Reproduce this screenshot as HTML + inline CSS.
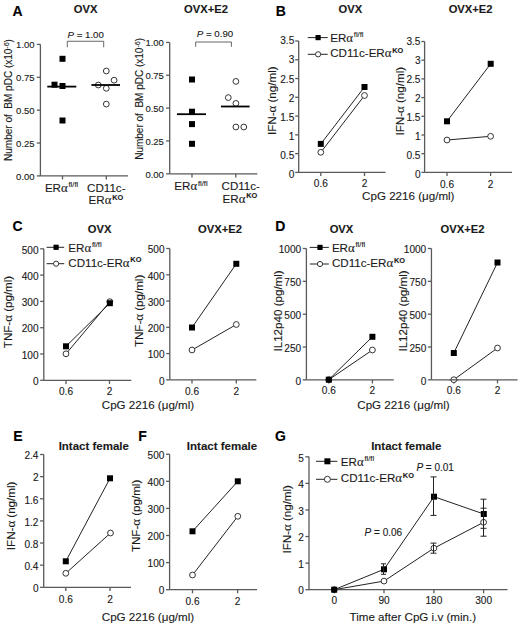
<!DOCTYPE html><html><head><meta charset="utf-8"><style>html,body{margin:0;padding:0;background:#fff;}svg{display:block;}text{font-family:"Liberation Sans",sans-serif;fill:#1a1a1a;stroke:#1a1a1a;stroke-width:0.12px;}</style></head><body>
<svg width="520" height="627" viewBox="0 0 520 627">
<rect width="520" height="627" fill="#fff"/>
<text x="12.60" y="15.60" font-size="14" font-weight="bold" style="fill:#000;stroke:#000">A</text>
<text x="85.60" y="12.80" font-size="11.2" text-anchor="middle" font-weight="bold">OVX</text>
<text x="206.00" y="12.80" font-size="11.2" text-anchor="middle" font-weight="bold">OVX+E2</text>
<line x1="40.40" y1="44.40" x2="40.40" y2="175.90" stroke="#5a5a5a" stroke-width="1.3"/>
<line x1="36.80" y1="44.40" x2="40.40" y2="44.40" stroke="#5a5a5a" stroke-width="1.3"/>
<text x="34.60" y="48.33" font-size="9.5" text-anchor="end">1.00</text>
<line x1="36.80" y1="77.28" x2="40.40" y2="77.28" stroke="#5a5a5a" stroke-width="1.3"/>
<text x="34.60" y="81.20" font-size="9.5" text-anchor="end">0.75</text>
<line x1="36.80" y1="110.15" x2="40.40" y2="110.15" stroke="#5a5a5a" stroke-width="1.3"/>
<text x="34.60" y="114.08" font-size="9.5" text-anchor="end">0.50</text>
<line x1="36.80" y1="143.03" x2="40.40" y2="143.03" stroke="#5a5a5a" stroke-width="1.3"/>
<text x="34.60" y="146.95" font-size="9.5" text-anchor="end">0.25</text>
<line x1="36.80" y1="175.90" x2="40.40" y2="175.90" stroke="#5a5a5a" stroke-width="1.3"/>
<text x="34.60" y="179.82" font-size="9.5" text-anchor="end">0.00</text>
<line x1="40.40" y1="175.90" x2="128.00" y2="175.90" stroke="#5a5a5a" stroke-width="1.3"/>
<line x1="62.50" y1="175.90" x2="62.50" y2="179.50" stroke="#5a5a5a" stroke-width="1.3"/>
<line x1="106.30" y1="175.90" x2="106.30" y2="179.50" stroke="#5a5a5a" stroke-width="1.3"/>
<rect x="59.50" y="55.80" width="6" height="6" fill="#000"/>
<rect x="51.50" y="81.70" width="6" height="6" fill="#000"/>
<rect x="59.50" y="83.00" width="6" height="6" fill="#000"/>
<rect x="59.50" y="117.50" width="6" height="6" fill="#000"/>
<line x1="47.30" y1="86.60" x2="76.30" y2="86.60" stroke="#000" stroke-width="1.8"/>
<circle cx="106.30" cy="71.00" r="2.9" fill="#fff" stroke="#2a2a2a" stroke-width="0.95"/>
<circle cx="114.10" cy="80.20" r="2.9" fill="#fff" stroke="#2a2a2a" stroke-width="0.95"/>
<circle cx="98.30" cy="85.00" r="2.9" fill="#fff" stroke="#2a2a2a" stroke-width="0.95"/>
<circle cx="106.30" cy="88.30" r="2.9" fill="#fff" stroke="#2a2a2a" stroke-width="0.95"/>
<circle cx="106.30" cy="104.10" r="2.9" fill="#fff" stroke="#2a2a2a" stroke-width="0.95"/>
<line x1="91.40" y1="85.00" x2="120.00" y2="85.00" stroke="#000" stroke-width="1.8"/>
<polyline points="67.3,47.3 67.3,41.25 103.7,41.25 103.7,47.3" fill="none" stroke="#555" stroke-width="0.9"/>
<text x="85.70" y="37.60" font-size="9.7" text-anchor="middle"><tspan font-style="italic">P</tspan> = 1.00</text>
<text transform="translate(12.40,100.00) rotate(-90)" font-size="10" text-anchor="middle">Number of&#160; BM pDC (x10<tspan font-size="7" dy="-3.2">-6</tspan><tspan dy="3.2">)</tspan></text>
<text x="44.90" y="191.70" font-size="11.6">ER<tspan style="font-family:&quot;Liberation Serif&quot;,serif;font-size:1.1em">&#945;</tspan><tspan font-size="7.6" dx="0.8" dy="-4.6">fl/fl</tspan></text>
<text x="106.30" y="191.70" font-size="11.6" text-anchor="middle">CD11c-</text>
<text x="88.60" y="204.30" font-size="11.6">ER<tspan style="font-family:&quot;Liberation Serif&quot;,serif;font-size:1.1em">&#945;</tspan><tspan font-size="7.4" font-weight="bold" dx="0.8" dy="-4.6">KO</tspan></text>
<line x1="169.70" y1="42.40" x2="169.70" y2="173.80" stroke="#5a5a5a" stroke-width="1.3"/>
<line x1="166.10" y1="42.40" x2="169.70" y2="42.40" stroke="#5a5a5a" stroke-width="1.3"/>
<text x="163.90" y="46.33" font-size="9.5" text-anchor="end">1.00</text>
<line x1="166.10" y1="75.25" x2="169.70" y2="75.25" stroke="#5a5a5a" stroke-width="1.3"/>
<text x="163.90" y="79.17" font-size="9.5" text-anchor="end">0.75</text>
<line x1="166.10" y1="108.10" x2="169.70" y2="108.10" stroke="#5a5a5a" stroke-width="1.3"/>
<text x="163.90" y="112.02" font-size="9.5" text-anchor="end">0.50</text>
<line x1="166.10" y1="140.95" x2="169.70" y2="140.95" stroke="#5a5a5a" stroke-width="1.3"/>
<text x="163.90" y="144.88" font-size="9.5" text-anchor="end">0.25</text>
<line x1="166.10" y1="173.80" x2="169.70" y2="173.80" stroke="#5a5a5a" stroke-width="1.3"/>
<text x="163.90" y="177.72" font-size="9.5" text-anchor="end">0.00</text>
<line x1="169.70" y1="173.80" x2="257.30" y2="173.80" stroke="#5a5a5a" stroke-width="1.3"/>
<line x1="192.00" y1="173.80" x2="192.00" y2="177.40" stroke="#5a5a5a" stroke-width="1.3"/>
<line x1="235.80" y1="173.80" x2="235.80" y2="177.40" stroke="#5a5a5a" stroke-width="1.3"/>
<rect x="189.00" y="76.50" width="6" height="6" fill="#000"/>
<rect x="189.00" y="108.70" width="6" height="6" fill="#000"/>
<rect x="189.00" y="121.10" width="6" height="6" fill="#000"/>
<rect x="189.00" y="140.80" width="6" height="6" fill="#000"/>
<line x1="177.00" y1="114.20" x2="206.00" y2="114.20" stroke="#000" stroke-width="1.8"/>
<circle cx="235.90" cy="81.40" r="2.9" fill="#fff" stroke="#2a2a2a" stroke-width="0.95"/>
<circle cx="228.30" cy="97.60" r="2.9" fill="#fff" stroke="#2a2a2a" stroke-width="0.95"/>
<circle cx="235.90" cy="103.40" r="2.9" fill="#fff" stroke="#2a2a2a" stroke-width="0.95"/>
<circle cx="235.90" cy="127.00" r="2.9" fill="#fff" stroke="#2a2a2a" stroke-width="0.95"/>
<circle cx="243.80" cy="127.00" r="2.9" fill="#fff" stroke="#2a2a2a" stroke-width="0.95"/>
<line x1="221.00" y1="106.50" x2="249.60" y2="106.50" stroke="#000" stroke-width="1.8"/>
<polyline points="195.7,46.8 195.7,42 231.4,42 231.4,46.8" fill="none" stroke="#555" stroke-width="0.9"/>
<text x="215.00" y="37.40" font-size="9.7" text-anchor="middle"><tspan font-style="italic">P</tspan> = 0.90</text>
<text transform="translate(143.20,98.90) rotate(-90)" font-size="10" text-anchor="middle">Number of&#160; BM pDC (x10<tspan font-size="7" dy="-3.2">-6</tspan><tspan dy="3.2">)</tspan></text>
<text x="174.30" y="190.30" font-size="11.6">ER<tspan style="font-family:&quot;Liberation Serif&quot;,serif;font-size:1.1em">&#945;</tspan><tspan font-size="7.6" dx="0.8" dy="-4.6">fl/fl</tspan></text>
<text x="240.75" y="190.30" font-size="11.6" text-anchor="middle">CD11c-</text>
<text x="222.60" y="202.70" font-size="11.6">ER<tspan style="font-family:&quot;Liberation Serif&quot;,serif;font-size:1.1em">&#945;</tspan><tspan font-size="7.4" font-weight="bold" dx="0.8" dy="-4.6">KO</tspan></text>
<text x="275.80" y="15.50" font-size="14" font-weight="bold" style="fill:#000;stroke:#000">B</text>
<text x="350.40" y="12.80" font-size="11.2" text-anchor="middle" font-weight="bold">OVX</text>
<text x="470.60" y="12.80" font-size="11.2" text-anchor="middle" font-weight="bold">OVX+E2</text>
<line x1="298.70" y1="41.00" x2="298.70" y2="172.40" stroke="#5a5a5a" stroke-width="1.3"/>
<line x1="295.20" y1="41.00" x2="298.70" y2="41.00" stroke="#5a5a5a" stroke-width="1.3"/>
<text x="294.30" y="44.41" font-size="10.1" text-anchor="end">3.5</text>
<line x1="295.20" y1="59.77" x2="298.70" y2="59.77" stroke="#5a5a5a" stroke-width="1.3"/>
<text x="294.30" y="63.46" font-size="10.1" text-anchor="end">3</text>
<line x1="295.20" y1="78.54" x2="298.70" y2="78.54" stroke="#5a5a5a" stroke-width="1.3"/>
<text x="294.30" y="82.50" font-size="10.1" text-anchor="end">2.5</text>
<line x1="295.20" y1="97.31" x2="298.70" y2="97.31" stroke="#5a5a5a" stroke-width="1.3"/>
<text x="294.30" y="101.55" font-size="10.1" text-anchor="end">2</text>
<line x1="295.20" y1="116.09" x2="298.70" y2="116.09" stroke="#5a5a5a" stroke-width="1.3"/>
<text x="294.30" y="120.60" font-size="10.1" text-anchor="end">1.5</text>
<line x1="295.20" y1="134.86" x2="298.70" y2="134.86" stroke="#5a5a5a" stroke-width="1.3"/>
<text x="294.30" y="139.64" font-size="10.1" text-anchor="end">1</text>
<line x1="295.20" y1="153.63" x2="298.70" y2="153.63" stroke="#5a5a5a" stroke-width="1.3"/>
<text x="294.30" y="158.69" font-size="10.1" text-anchor="end">0.5</text>
<line x1="295.20" y1="172.40" x2="298.70" y2="172.40" stroke="#5a5a5a" stroke-width="1.3"/>
<text x="294.30" y="177.73" font-size="10.1" text-anchor="end">0</text>
<line x1="298.70" y1="172.40" x2="385.50" y2="172.40" stroke="#5a5a5a" stroke-width="1.3"/>
<line x1="320.80" y1="172.40" x2="320.80" y2="176.00" stroke="#5a5a5a" stroke-width="1.3"/>
<text x="320.80" y="187.40" font-size="10.1" text-anchor="middle">0.6</text>
<line x1="364.50" y1="172.40" x2="364.50" y2="176.00" stroke="#5a5a5a" stroke-width="1.3"/>
<text x="364.50" y="187.40" font-size="10.1" text-anchor="middle">2</text>
<line x1="307.75" y1="37.60" x2="327.70" y2="37.60" stroke="#222" stroke-width="1"/>
<rect x="315.50" y="35.00" width="5.2" height="5.2" fill="#000"/>
<text x="330.20" y="41.80" font-size="11.6">ER<tspan style="font-family:&quot;Liberation Serif&quot;,serif;font-size:1.1em">&#945;</tspan><tspan font-size="7.6" dx="0.8" dy="-4.6">fl/fl</tspan></text>
<line x1="307.75" y1="54.30" x2="327.70" y2="54.30" stroke="#222" stroke-width="1"/>
<circle cx="318.10" cy="54.30" r="2.6" fill="#fff" stroke="#2a2a2a" stroke-width="0.95"/>
<text x="330.20" y="57.40" font-size="11.6">CD11c-ER<tspan style="font-family:&quot;Liberation Serif&quot;,serif;font-size:1.1em">&#945;</tspan><tspan font-size="7.4" font-weight="bold" dx="0.8" dy="-4.6">KO</tspan></text>
<text transform="translate(276.10,100.70) rotate(-90)" font-size="11.6" text-anchor="middle">IFN-<tspan style="font-family:&quot;Liberation Serif&quot;,serif;font-size:1.1em">&#945;</tspan> (ng/ml)</text>
<line x1="424.60" y1="41.50" x2="424.60" y2="172.40" stroke="#5a5a5a" stroke-width="1.3"/>
<line x1="421.40" y1="41.50" x2="424.60" y2="41.50" stroke="#5a5a5a" stroke-width="1.3"/>
<text x="420.50" y="44.91" font-size="10.1" text-anchor="end">3.5</text>
<line x1="421.40" y1="60.20" x2="424.60" y2="60.20" stroke="#5a5a5a" stroke-width="1.3"/>
<text x="420.50" y="63.89" font-size="10.1" text-anchor="end">3</text>
<line x1="421.40" y1="78.90" x2="424.60" y2="78.90" stroke="#5a5a5a" stroke-width="1.3"/>
<text x="420.50" y="82.86" font-size="10.1" text-anchor="end">2.5</text>
<line x1="421.40" y1="97.60" x2="424.60" y2="97.60" stroke="#5a5a5a" stroke-width="1.3"/>
<text x="420.50" y="101.84" font-size="10.1" text-anchor="end">2</text>
<line x1="421.40" y1="116.30" x2="424.60" y2="116.30" stroke="#5a5a5a" stroke-width="1.3"/>
<text x="420.50" y="120.81" font-size="10.1" text-anchor="end">1.5</text>
<line x1="421.40" y1="135.00" x2="424.60" y2="135.00" stroke="#5a5a5a" stroke-width="1.3"/>
<text x="420.50" y="139.78" font-size="10.1" text-anchor="end">1</text>
<line x1="421.40" y1="153.70" x2="424.60" y2="153.70" stroke="#5a5a5a" stroke-width="1.3"/>
<text x="420.50" y="158.76" font-size="10.1" text-anchor="end">0.5</text>
<line x1="421.40" y1="172.40" x2="424.60" y2="172.40" stroke="#5a5a5a" stroke-width="1.3"/>
<text x="420.50" y="177.73" font-size="10.1" text-anchor="end">0</text>
<line x1="424.60" y1="172.40" x2="512.00" y2="172.40" stroke="#5a5a5a" stroke-width="1.3"/>
<line x1="447.00" y1="172.40" x2="447.00" y2="176.00" stroke="#5a5a5a" stroke-width="1.3"/>
<text x="447.00" y="187.60" font-size="10.1" text-anchor="middle">0.6</text>
<line x1="490.60" y1="172.40" x2="490.60" y2="176.00" stroke="#5a5a5a" stroke-width="1.3"/>
<text x="490.60" y="187.60" font-size="10.1" text-anchor="middle">2</text>
<text transform="translate(403.80,101.20) rotate(-90)" font-size="11.6" text-anchor="middle">IFN-<tspan style="font-family:&quot;Liberation Serif&quot;,serif;font-size:1.1em">&#945;</tspan> (ng/ml)</text>
<text x="408.30" y="200.00" font-size="11.6" text-anchor="middle">CpG 2216 (&#956;g/ml)</text>
<text x="12.50" y="231.30" font-size="14" font-weight="bold" style="fill:#000;stroke:#000">C</text>
<text x="99.60" y="232.50" font-size="11.2" text-anchor="middle" font-weight="bold">OVX</text>
<text x="220.00" y="232.50" font-size="11.2" text-anchor="middle" font-weight="bold">OVX+E2</text>
<line x1="43.80" y1="248.80" x2="43.80" y2="380.30" stroke="#5a5a5a" stroke-width="1.3"/>
<line x1="40.20" y1="248.80" x2="43.80" y2="248.80" stroke="#5a5a5a" stroke-width="1.3"/>
<text x="38.60" y="253.53" font-size="10.1" text-anchor="end">500</text>
<line x1="40.20" y1="275.10" x2="43.80" y2="275.10" stroke="#5a5a5a" stroke-width="1.3"/>
<text x="38.60" y="279.84" font-size="10.1" text-anchor="end">400</text>
<line x1="40.20" y1="301.40" x2="43.80" y2="301.40" stroke="#5a5a5a" stroke-width="1.3"/>
<text x="38.60" y="306.14" font-size="10.1" text-anchor="end">300</text>
<line x1="40.20" y1="327.70" x2="43.80" y2="327.70" stroke="#5a5a5a" stroke-width="1.3"/>
<text x="38.60" y="332.44" font-size="10.1" text-anchor="end">200</text>
<line x1="40.20" y1="354.00" x2="43.80" y2="354.00" stroke="#5a5a5a" stroke-width="1.3"/>
<text x="38.60" y="358.74" font-size="10.1" text-anchor="end">100</text>
<line x1="40.20" y1="380.30" x2="43.80" y2="380.30" stroke="#5a5a5a" stroke-width="1.3"/>
<text x="38.60" y="385.04" font-size="10.1" text-anchor="end">0</text>
<line x1="43.80" y1="380.30" x2="131.30" y2="380.30" stroke="#5a5a5a" stroke-width="1.3"/>
<line x1="66.00" y1="380.30" x2="66.00" y2="383.90" stroke="#5a5a5a" stroke-width="1.3"/>
<text x="66.00" y="395.30" font-size="10.1" text-anchor="middle">0.6</text>
<line x1="109.50" y1="380.30" x2="109.50" y2="383.90" stroke="#5a5a5a" stroke-width="1.3"/>
<text x="109.50" y="395.30" font-size="10.1" text-anchor="middle">2</text>
<line x1="46.60" y1="247.30" x2="64.20" y2="247.30" stroke="#222" stroke-width="1"/>
<rect x="53.50" y="244.70" width="5.2" height="5.2" fill="#000"/>
<text x="68.30" y="251.50" font-size="11.6">ER<tspan style="font-family:&quot;Liberation Serif&quot;,serif;font-size:1.1em">&#945;</tspan><tspan font-size="7.6" dx="0.8" dy="-4.6">fl/fl</tspan></text>
<line x1="46.60" y1="263.70" x2="64.20" y2="263.70" stroke="#222" stroke-width="1"/>
<circle cx="56.10" cy="263.70" r="2.6" fill="#fff" stroke="#2a2a2a" stroke-width="0.95"/>
<text x="68.30" y="266.80" font-size="11.6">CD11c-ER<tspan style="font-family:&quot;Liberation Serif&quot;,serif;font-size:1.1em">&#945;</tspan><tspan font-size="7.4" font-weight="bold" dx="0.8" dy="-4.6">KO</tspan></text>
<text transform="translate(12.30,312.00) rotate(-90)" font-size="11.6" text-anchor="middle">TNF-<tspan style="font-family:&quot;Liberation Serif&quot;,serif;font-size:1.1em">&#945;</tspan> (pg/ml)</text>
<line x1="169.80" y1="248.50" x2="169.80" y2="379.85" stroke="#5a5a5a" stroke-width="1.3"/>
<line x1="166.20" y1="248.50" x2="169.80" y2="248.50" stroke="#5a5a5a" stroke-width="1.3"/>
<text x="164.60" y="253.23" font-size="10.1" text-anchor="end">500</text>
<line x1="166.20" y1="274.77" x2="169.80" y2="274.77" stroke="#5a5a5a" stroke-width="1.3"/>
<text x="164.60" y="279.50" font-size="10.1" text-anchor="end">400</text>
<line x1="166.20" y1="301.04" x2="169.80" y2="301.04" stroke="#5a5a5a" stroke-width="1.3"/>
<text x="164.60" y="305.78" font-size="10.1" text-anchor="end">300</text>
<line x1="166.20" y1="327.31" x2="169.80" y2="327.31" stroke="#5a5a5a" stroke-width="1.3"/>
<text x="164.60" y="332.05" font-size="10.1" text-anchor="end">200</text>
<line x1="166.20" y1="353.58" x2="169.80" y2="353.58" stroke="#5a5a5a" stroke-width="1.3"/>
<text x="164.60" y="358.32" font-size="10.1" text-anchor="end">100</text>
<line x1="166.20" y1="379.85" x2="169.80" y2="379.85" stroke="#5a5a5a" stroke-width="1.3"/>
<text x="164.60" y="384.59" font-size="10.1" text-anchor="end">0</text>
<line x1="169.80" y1="379.85" x2="256.30" y2="379.85" stroke="#5a5a5a" stroke-width="1.3"/>
<line x1="192.00" y1="379.85" x2="192.00" y2="383.45" stroke="#5a5a5a" stroke-width="1.3"/>
<text x="192.00" y="394.85" font-size="10.1" text-anchor="middle">0.6</text>
<line x1="236.30" y1="379.85" x2="236.30" y2="383.45" stroke="#5a5a5a" stroke-width="1.3"/>
<text x="236.30" y="394.85" font-size="10.1" text-anchor="middle">2</text>
<text transform="translate(142.60,310.90) rotate(-90)" font-size="11.6" text-anchor="middle">TNF-<tspan style="font-family:&quot;Liberation Serif&quot;,serif;font-size:1.1em">&#945;</tspan> (pg/ml)</text>
<text x="148.00" y="408.70" font-size="11.6" text-anchor="middle">CpG 2216 (&#956;g/ml)</text>
<text x="275.30" y="230.60" font-size="14" font-weight="bold" style="fill:#000;stroke:#000">D</text>
<text x="341.50" y="232.50" font-size="11.2" text-anchor="middle" font-weight="bold">OVX</text>
<text x="462.50" y="232.50" font-size="11.2" text-anchor="middle" font-weight="bold">OVX+E2</text>
<line x1="306.40" y1="248.50" x2="306.40" y2="379.90" stroke="#5a5a5a" stroke-width="1.3"/>
<line x1="302.80" y1="248.50" x2="306.40" y2="248.50" stroke="#5a5a5a" stroke-width="1.3"/>
<text x="301.20" y="253.23" font-size="10.1" text-anchor="end">1000</text>
<line x1="302.80" y1="281.35" x2="306.40" y2="281.35" stroke="#5a5a5a" stroke-width="1.3"/>
<text x="301.20" y="286.09" font-size="10.1" text-anchor="end">750</text>
<line x1="302.80" y1="314.20" x2="306.40" y2="314.20" stroke="#5a5a5a" stroke-width="1.3"/>
<text x="301.20" y="318.94" font-size="10.1" text-anchor="end">500</text>
<line x1="302.80" y1="347.05" x2="306.40" y2="347.05" stroke="#5a5a5a" stroke-width="1.3"/>
<text x="301.20" y="351.78" font-size="10.1" text-anchor="end">250</text>
<line x1="302.80" y1="379.90" x2="306.40" y2="379.90" stroke="#5a5a5a" stroke-width="1.3"/>
<text x="301.20" y="384.63" font-size="10.1" text-anchor="end">0</text>
<line x1="306.40" y1="379.90" x2="393.80" y2="379.90" stroke="#5a5a5a" stroke-width="1.3"/>
<line x1="328.80" y1="379.90" x2="328.80" y2="383.50" stroke="#5a5a5a" stroke-width="1.3"/>
<text x="328.80" y="394.20" font-size="10.1" text-anchor="middle">0.6</text>
<line x1="372.40" y1="379.90" x2="372.40" y2="383.50" stroke="#5a5a5a" stroke-width="1.3"/>
<text x="372.40" y="394.20" font-size="10.1" text-anchor="middle">2</text>
<line x1="309.75" y1="247.40" x2="328.80" y2="247.40" stroke="#222" stroke-width="1"/>
<rect x="317.40" y="244.80" width="5.2" height="5.2" fill="#000"/>
<text x="331.90" y="251.60" font-size="11.6">ER<tspan style="font-family:&quot;Liberation Serif&quot;,serif;font-size:1.1em">&#945;</tspan><tspan font-size="7.6" dx="0.8" dy="-4.6">fl/fl</tspan></text>
<line x1="309.75" y1="264.00" x2="328.80" y2="264.00" stroke="#222" stroke-width="1"/>
<circle cx="320.00" cy="264.00" r="2.6" fill="#fff" stroke="#2a2a2a" stroke-width="0.95"/>
<text x="331.90" y="267.10" font-size="11.6">CD11c-ER<tspan style="font-family:&quot;Liberation Serif&quot;,serif;font-size:1.1em">&#945;</tspan><tspan font-size="7.4" font-weight="bold" dx="0.8" dy="-4.6">KO</tspan></text>
<text transform="translate(281.70,310.90) rotate(-90)" font-size="11.6" text-anchor="middle">IL12p40 (pg/ml)</text>
<line x1="431.45" y1="248.50" x2="431.45" y2="379.85" stroke="#5a5a5a" stroke-width="1.3"/>
<line x1="427.85" y1="248.50" x2="431.45" y2="248.50" stroke="#5a5a5a" stroke-width="1.3"/>
<text x="426.25" y="253.23" font-size="10.1" text-anchor="end">1000</text>
<line x1="427.85" y1="281.34" x2="431.45" y2="281.34" stroke="#5a5a5a" stroke-width="1.3"/>
<text x="426.25" y="286.07" font-size="10.1" text-anchor="end">750</text>
<line x1="427.85" y1="314.18" x2="431.45" y2="314.18" stroke="#5a5a5a" stroke-width="1.3"/>
<text x="426.25" y="318.91" font-size="10.1" text-anchor="end">500</text>
<line x1="427.85" y1="347.01" x2="431.45" y2="347.01" stroke="#5a5a5a" stroke-width="1.3"/>
<text x="426.25" y="351.75" font-size="10.1" text-anchor="end">250</text>
<line x1="427.85" y1="379.85" x2="431.45" y2="379.85" stroke="#5a5a5a" stroke-width="1.3"/>
<text x="426.25" y="384.59" font-size="10.1" text-anchor="end">0</text>
<line x1="431.45" y1="379.85" x2="517.50" y2="379.85" stroke="#5a5a5a" stroke-width="1.3"/>
<line x1="453.80" y1="379.85" x2="453.80" y2="383.45" stroke="#5a5a5a" stroke-width="1.3"/>
<text x="453.80" y="394.15" font-size="10.1" text-anchor="middle">0.6</text>
<line x1="497.50" y1="379.85" x2="497.50" y2="383.45" stroke="#5a5a5a" stroke-width="1.3"/>
<text x="497.50" y="394.15" font-size="10.1" text-anchor="middle">2</text>
<text transform="translate(406.70,311.00) rotate(-90)" font-size="11.6" text-anchor="middle">IL12p40 (pg/ml)</text>
<text x="403.50" y="408.70" font-size="11.6" text-anchor="middle">CpG 2216 (&#956;g/ml)</text>
<text x="13.30" y="441.30" font-size="14" font-weight="bold" style="fill:#000;stroke:#000">E</text>
<text x="93.80" y="449.90" font-size="11.5" text-anchor="middle" font-weight="bold">Intact female</text>
<line x1="43.70" y1="454.50" x2="43.70" y2="587.30" stroke="#5a5a5a" stroke-width="1.3"/>
<line x1="40.10" y1="454.50" x2="43.70" y2="454.50" stroke="#5a5a5a" stroke-width="1.3"/>
<text x="38.50" y="459.24" font-size="10.1" text-anchor="end">2.4</text>
<line x1="40.10" y1="476.63" x2="43.70" y2="476.63" stroke="#5a5a5a" stroke-width="1.3"/>
<text x="38.50" y="481.37" font-size="10.1" text-anchor="end">2</text>
<line x1="40.10" y1="498.77" x2="43.70" y2="498.77" stroke="#5a5a5a" stroke-width="1.3"/>
<text x="38.50" y="503.50" font-size="10.1" text-anchor="end">1.6</text>
<line x1="40.10" y1="520.90" x2="43.70" y2="520.90" stroke="#5a5a5a" stroke-width="1.3"/>
<text x="38.50" y="525.63" font-size="10.1" text-anchor="end">1.2</text>
<line x1="40.10" y1="543.03" x2="43.70" y2="543.03" stroke="#5a5a5a" stroke-width="1.3"/>
<text x="38.50" y="547.77" font-size="10.1" text-anchor="end">0.8</text>
<line x1="40.10" y1="565.17" x2="43.70" y2="565.17" stroke="#5a5a5a" stroke-width="1.3"/>
<text x="38.50" y="569.90" font-size="10.1" text-anchor="end">0.4</text>
<line x1="40.10" y1="587.30" x2="43.70" y2="587.30" stroke="#5a5a5a" stroke-width="1.3"/>
<text x="38.50" y="592.03" font-size="10.1" text-anchor="end">0</text>
<line x1="43.70" y1="587.30" x2="131.00" y2="587.30" stroke="#5a5a5a" stroke-width="1.3"/>
<line x1="65.80" y1="587.30" x2="65.80" y2="590.90" stroke="#5a5a5a" stroke-width="1.3"/>
<text x="65.80" y="602.60" font-size="10.1" text-anchor="middle">0.6</text>
<line x1="110.00" y1="587.30" x2="110.00" y2="590.90" stroke="#5a5a5a" stroke-width="1.3"/>
<text x="110.00" y="602.60" font-size="10.1" text-anchor="middle">2</text>
<text transform="translate(14.90,515.90) rotate(-90)" font-size="11.6" text-anchor="middle">IFN-<tspan style="font-family:&quot;Liberation Serif&quot;,serif;font-size:1.1em">&#945;</tspan> (ng/ml)</text>
<text x="138.30" y="441.30" font-size="14" font-weight="bold" style="fill:#000;stroke:#000">F</text>
<text x="222.00" y="449.90" font-size="11.5" text-anchor="middle" font-weight="bold">Intact female</text>
<line x1="169.60" y1="454.20" x2="169.60" y2="589.70" stroke="#5a5a5a" stroke-width="1.3"/>
<line x1="166.00" y1="454.20" x2="169.60" y2="454.20" stroke="#5a5a5a" stroke-width="1.3"/>
<text x="164.40" y="458.94" font-size="10.1" text-anchor="end">500</text>
<line x1="166.00" y1="481.30" x2="169.60" y2="481.30" stroke="#5a5a5a" stroke-width="1.3"/>
<text x="164.40" y="486.04" font-size="10.1" text-anchor="end">400</text>
<line x1="166.00" y1="508.40" x2="169.60" y2="508.40" stroke="#5a5a5a" stroke-width="1.3"/>
<text x="164.40" y="513.13" font-size="10.1" text-anchor="end">300</text>
<line x1="166.00" y1="535.50" x2="169.60" y2="535.50" stroke="#5a5a5a" stroke-width="1.3"/>
<text x="164.40" y="540.24" font-size="10.1" text-anchor="end">200</text>
<line x1="166.00" y1="562.60" x2="169.60" y2="562.60" stroke="#5a5a5a" stroke-width="1.3"/>
<text x="164.40" y="567.34" font-size="10.1" text-anchor="end">100</text>
<line x1="166.00" y1="589.70" x2="169.60" y2="589.70" stroke="#5a5a5a" stroke-width="1.3"/>
<text x="164.40" y="594.44" font-size="10.1" text-anchor="end">0</text>
<line x1="169.60" y1="589.70" x2="257.00" y2="589.70" stroke="#5a5a5a" stroke-width="1.3"/>
<line x1="192.50" y1="589.70" x2="192.50" y2="593.30" stroke="#5a5a5a" stroke-width="1.3"/>
<text x="192.50" y="604.80" font-size="10.1" text-anchor="middle">0.6</text>
<line x1="237.60" y1="589.70" x2="237.60" y2="593.30" stroke="#5a5a5a" stroke-width="1.3"/>
<text x="237.60" y="604.80" font-size="10.1" text-anchor="middle">2</text>
<text transform="translate(140.40,515.90) rotate(-90)" font-size="11.6" text-anchor="middle">TNF-<tspan style="font-family:&quot;Liberation Serif&quot;,serif;font-size:1.1em">&#945;</tspan> (pg/ml)</text>
<text x="148.00" y="620.50" font-size="11.6" text-anchor="middle">CpG 2216 (&#956;g/ml)</text>
<text x="275.00" y="441.30" font-size="14" font-weight="bold" style="fill:#000;stroke:#000">G</text>
<text x="406.30" y="449.90" font-size="11.5" text-anchor="middle" font-weight="bold">Intact female</text>
<line x1="309.00" y1="456.80" x2="309.00" y2="589.70" stroke="#5a5a5a" stroke-width="1.3"/>
<line x1="305.40" y1="456.80" x2="309.00" y2="456.80" stroke="#5a5a5a" stroke-width="1.3"/>
<text x="303.80" y="461.54" font-size="10.1" text-anchor="end">5</text>
<line x1="305.40" y1="483.38" x2="309.00" y2="483.38" stroke="#5a5a5a" stroke-width="1.3"/>
<text x="303.80" y="488.12" font-size="10.1" text-anchor="end">4</text>
<line x1="305.40" y1="509.96" x2="309.00" y2="509.96" stroke="#5a5a5a" stroke-width="1.3"/>
<text x="303.80" y="514.70" font-size="10.1" text-anchor="end">3</text>
<line x1="305.40" y1="536.54" x2="309.00" y2="536.54" stroke="#5a5a5a" stroke-width="1.3"/>
<text x="303.80" y="541.28" font-size="10.1" text-anchor="end">2</text>
<line x1="305.40" y1="563.12" x2="309.00" y2="563.12" stroke="#5a5a5a" stroke-width="1.3"/>
<text x="303.80" y="567.86" font-size="10.1" text-anchor="end">1</text>
<line x1="305.40" y1="589.70" x2="309.00" y2="589.70" stroke="#5a5a5a" stroke-width="1.3"/>
<text x="303.80" y="594.44" font-size="10.1" text-anchor="end">0</text>
<line x1="309.00" y1="589.70" x2="507.50" y2="589.70" stroke="#5a5a5a" stroke-width="1.3"/>
<line x1="334.20" y1="589.70" x2="334.20" y2="593.30" stroke="#5a5a5a" stroke-width="1.3"/>
<text x="334.20" y="603.50" font-size="10.1" text-anchor="middle">0</text>
<line x1="384.00" y1="589.70" x2="384.00" y2="593.30" stroke="#5a5a5a" stroke-width="1.3"/>
<text x="384.00" y="603.50" font-size="10.1" text-anchor="middle">90</text>
<line x1="433.90" y1="589.70" x2="433.90" y2="593.30" stroke="#5a5a5a" stroke-width="1.3"/>
<text x="433.90" y="603.50" font-size="10.1" text-anchor="middle">180</text>
<line x1="483.60" y1="589.70" x2="483.60" y2="593.30" stroke="#5a5a5a" stroke-width="1.3"/>
<text x="483.60" y="603.50" font-size="10.1" text-anchor="middle">300</text>
<line x1="316.00" y1="461.30" x2="337.40" y2="461.30" stroke="#222" stroke-width="1"/>
<rect x="324.40" y="458.30" width="6" height="6" fill="#000"/>
<text x="340.80" y="465.50" font-size="11.6">ER<tspan style="font-family:&quot;Liberation Serif&quot;,serif;font-size:1.1em">&#945;</tspan><tspan font-size="7.6" dx="0.8" dy="-4.6">fl/fl</tspan></text>
<line x1="316.00" y1="479.30" x2="337.40" y2="479.30" stroke="#222" stroke-width="1"/>
<circle cx="327.40" cy="479.30" r="3.0" fill="#fff" stroke="#2a2a2a" stroke-width="0.95"/>
<text x="340.80" y="482.40" font-size="11.6">CD11c-ER<tspan style="font-family:&quot;Liberation Serif&quot;,serif;font-size:1.1em">&#945;</tspan><tspan font-size="7.4" font-weight="bold" dx="0.8" dy="-4.6">KO</tspan></text>
<text transform="translate(291.00,519.30) rotate(-90)" font-size="11.6" text-anchor="middle">IFN-<tspan style="font-family:&quot;Liberation Serif&quot;,serif;font-size:1.1em">&#945;</tspan> (ng/ml)</text>
<text x="364.60" y="535.50" font-size="10"><tspan font-style="italic">P</tspan> = 0.06</text>
<text x="416.40" y="471.00" font-size="10"><tspan font-style="italic">P</tspan> = 0.01</text>
<text x="412.80" y="620.50" font-size="11.6" text-anchor="middle">Time after CpG i.v (min.)</text>
<line x1="320.80" y1="143.90" x2="364.50" y2="87.00" stroke="#222" stroke-width="1"/>
<line x1="320.80" y1="152.30" x2="364.50" y2="95.50" stroke="#222" stroke-width="1"/>
<line x1="447.00" y1="121.30" x2="490.70" y2="63.80" stroke="#222" stroke-width="1"/>
<line x1="447.00" y1="140.00" x2="490.60" y2="136.30" stroke="#222" stroke-width="1"/>
<line x1="66.00" y1="346.30" x2="109.85" y2="303.20" stroke="#222" stroke-width="1"/>
<line x1="66.00" y1="353.80" x2="109.85" y2="301.70" stroke="#222" stroke-width="1"/>
<line x1="192.00" y1="327.50" x2="236.30" y2="263.80" stroke="#222" stroke-width="1"/>
<line x1="192.00" y1="350.00" x2="236.30" y2="324.50" stroke="#222" stroke-width="1"/>
<line x1="328.80" y1="379.70" x2="372.40" y2="350.00" stroke="#222" stroke-width="1"/>
<line x1="328.80" y1="379.70" x2="372.40" y2="336.80" stroke="#222" stroke-width="1"/>
<line x1="453.80" y1="353.00" x2="497.50" y2="262.50" stroke="#222" stroke-width="1"/>
<line x1="453.80" y1="379.70" x2="497.50" y2="348.00" stroke="#222" stroke-width="1"/>
<line x1="65.80" y1="561.30" x2="110.00" y2="478.30" stroke="#222" stroke-width="1"/>
<line x1="65.80" y1="573.30" x2="110.50" y2="533.00" stroke="#222" stroke-width="1"/>
<line x1="192.50" y1="531.30" x2="237.80" y2="481.30" stroke="#222" stroke-width="1"/>
<line x1="192.50" y1="575.00" x2="237.80" y2="516.30" stroke="#222" stroke-width="1"/>
<line x1="334.20" y1="589.70" x2="384.00" y2="581.10" stroke="#222" stroke-width="1"/>
<line x1="384.00" y1="581.10" x2="433.90" y2="548.20" stroke="#222" stroke-width="1"/>
<line x1="433.90" y1="548.20" x2="483.60" y2="522.30" stroke="#222" stroke-width="1"/>
<line x1="334.20" y1="589.70" x2="384.00" y2="569.30" stroke="#222" stroke-width="1"/>
<line x1="384.00" y1="569.30" x2="434.00" y2="496.70" stroke="#222" stroke-width="1"/>
<line x1="434.00" y1="496.70" x2="483.80" y2="514.00" stroke="#222" stroke-width="1"/>
<circle cx="320.80" cy="152.30" r="2.9" fill="#fff" stroke="#2a2a2a" stroke-width="0.95"/>
<circle cx="364.50" cy="95.50" r="2.9" fill="#fff" stroke="#2a2a2a" stroke-width="0.95"/>
<circle cx="447.00" cy="140.00" r="2.9" fill="#fff" stroke="#2a2a2a" stroke-width="0.95"/>
<circle cx="490.60" cy="136.30" r="2.9" fill="#fff" stroke="#2a2a2a" stroke-width="0.95"/>
<circle cx="66.00" cy="353.80" r="2.9" fill="#fff" stroke="#2a2a2a" stroke-width="0.95"/>
<circle cx="109.85" cy="301.70" r="2.9" fill="#fff" stroke="#2a2a2a" stroke-width="0.95"/>
<circle cx="192.00" cy="350.00" r="2.9" fill="#fff" stroke="#2a2a2a" stroke-width="0.95"/>
<circle cx="236.30" cy="324.50" r="2.9" fill="#fff" stroke="#2a2a2a" stroke-width="0.95"/>
<circle cx="328.80" cy="379.70" r="2.9" fill="#fff" stroke="#2a2a2a" stroke-width="0.95"/>
<circle cx="372.40" cy="350.00" r="2.9" fill="#fff" stroke="#2a2a2a" stroke-width="0.95"/>
<circle cx="453.80" cy="379.70" r="2.9" fill="#fff" stroke="#2a2a2a" stroke-width="0.95"/>
<circle cx="497.50" cy="348.00" r="2.9" fill="#fff" stroke="#2a2a2a" stroke-width="0.95"/>
<circle cx="65.80" cy="573.30" r="2.9" fill="#fff" stroke="#2a2a2a" stroke-width="0.95"/>
<circle cx="110.50" cy="533.00" r="2.9" fill="#fff" stroke="#2a2a2a" stroke-width="0.95"/>
<circle cx="192.50" cy="575.00" r="2.9" fill="#fff" stroke="#2a2a2a" stroke-width="0.95"/>
<circle cx="237.80" cy="516.30" r="2.9" fill="#fff" stroke="#2a2a2a" stroke-width="0.95"/>
<circle cx="334.20" cy="589.70" r="2.9" fill="#fff" stroke="#2a2a2a" stroke-width="0.95"/>
<circle cx="384.00" cy="581.10" r="2.9" fill="#fff" stroke="#2a2a2a" stroke-width="0.95"/>
<circle cx="433.90" cy="548.20" r="2.9" fill="#fff" stroke="#2a2a2a" stroke-width="0.95"/>
<circle cx="483.60" cy="522.30" r="2.9" fill="#fff" stroke="#2a2a2a" stroke-width="0.95"/>
<rect x="317.80" y="140.90" width="6" height="6" fill="#000"/>
<rect x="361.50" y="84.00" width="6" height="6" fill="#000"/>
<rect x="444.00" y="118.30" width="6" height="6" fill="#000"/>
<rect x="487.70" y="60.80" width="6" height="6" fill="#000"/>
<rect x="63.00" y="343.30" width="6" height="6" fill="#000"/>
<rect x="106.85" y="300.20" width="6" height="6" fill="#000"/>
<rect x="189.00" y="324.50" width="6" height="6" fill="#000"/>
<rect x="233.30" y="260.80" width="6" height="6" fill="#000"/>
<rect x="325.80" y="376.70" width="6" height="6" fill="#000"/>
<rect x="369.40" y="333.80" width="6" height="6" fill="#000"/>
<rect x="450.80" y="350.00" width="6" height="6" fill="#000"/>
<rect x="494.50" y="259.50" width="6" height="6" fill="#000"/>
<rect x="62.80" y="558.30" width="6" height="6" fill="#000"/>
<rect x="107.00" y="475.30" width="6" height="6" fill="#000"/>
<rect x="189.50" y="528.30" width="6" height="6" fill="#000"/>
<rect x="234.80" y="478.30" width="6" height="6" fill="#000"/>
<rect x="331.20" y="586.70" width="6" height="6" fill="#000"/>
<rect x="381.00" y="566.30" width="6" height="6" fill="#000"/>
<rect x="431.00" y="493.70" width="6" height="6" fill="#000"/>
<rect x="480.80" y="511.00" width="6" height="6" fill="#000"/>
<line x1="383.50" y1="563.80" x2="383.50" y2="574.30" stroke="#222" stroke-width="1"/>
<line x1="381.00" y1="563.80" x2="386.00" y2="563.80" stroke="#222" stroke-width="1"/>
<line x1="381.00" y1="574.30" x2="386.00" y2="574.30" stroke="#222" stroke-width="1"/>
<line x1="433.50" y1="476.90" x2="433.50" y2="515.40" stroke="#222" stroke-width="1"/>
<line x1="430.50" y1="476.90" x2="436.50" y2="476.90" stroke="#222" stroke-width="1"/>
<line x1="430.50" y1="515.40" x2="436.50" y2="515.40" stroke="#222" stroke-width="1"/>
<line x1="483.50" y1="499.20" x2="483.50" y2="528.30" stroke="#222" stroke-width="1"/>
<line x1="480.50" y1="499.20" x2="486.50" y2="499.20" stroke="#222" stroke-width="1"/>
<line x1="480.50" y1="528.30" x2="486.50" y2="528.30" stroke="#222" stroke-width="1"/>
<line x1="433.50" y1="543.10" x2="433.50" y2="553.20" stroke="#222" stroke-width="1"/>
<line x1="430.50" y1="543.10" x2="436.50" y2="543.10" stroke="#222" stroke-width="1"/>
<line x1="430.50" y1="553.20" x2="436.50" y2="553.20" stroke="#222" stroke-width="1"/>
<line x1="483.50" y1="508.20" x2="483.50" y2="536.20" stroke="#222" stroke-width="1"/>
<line x1="480.50" y1="508.20" x2="486.50" y2="508.20" stroke="#222" stroke-width="1"/>
<line x1="480.50" y1="536.20" x2="486.50" y2="536.20" stroke="#222" stroke-width="1"/>
<line x1="449.50" y1="379.85" x2="458.50" y2="379.85" stroke="#5a5a5a" stroke-width="1.3"/>
</svg></body></html>
